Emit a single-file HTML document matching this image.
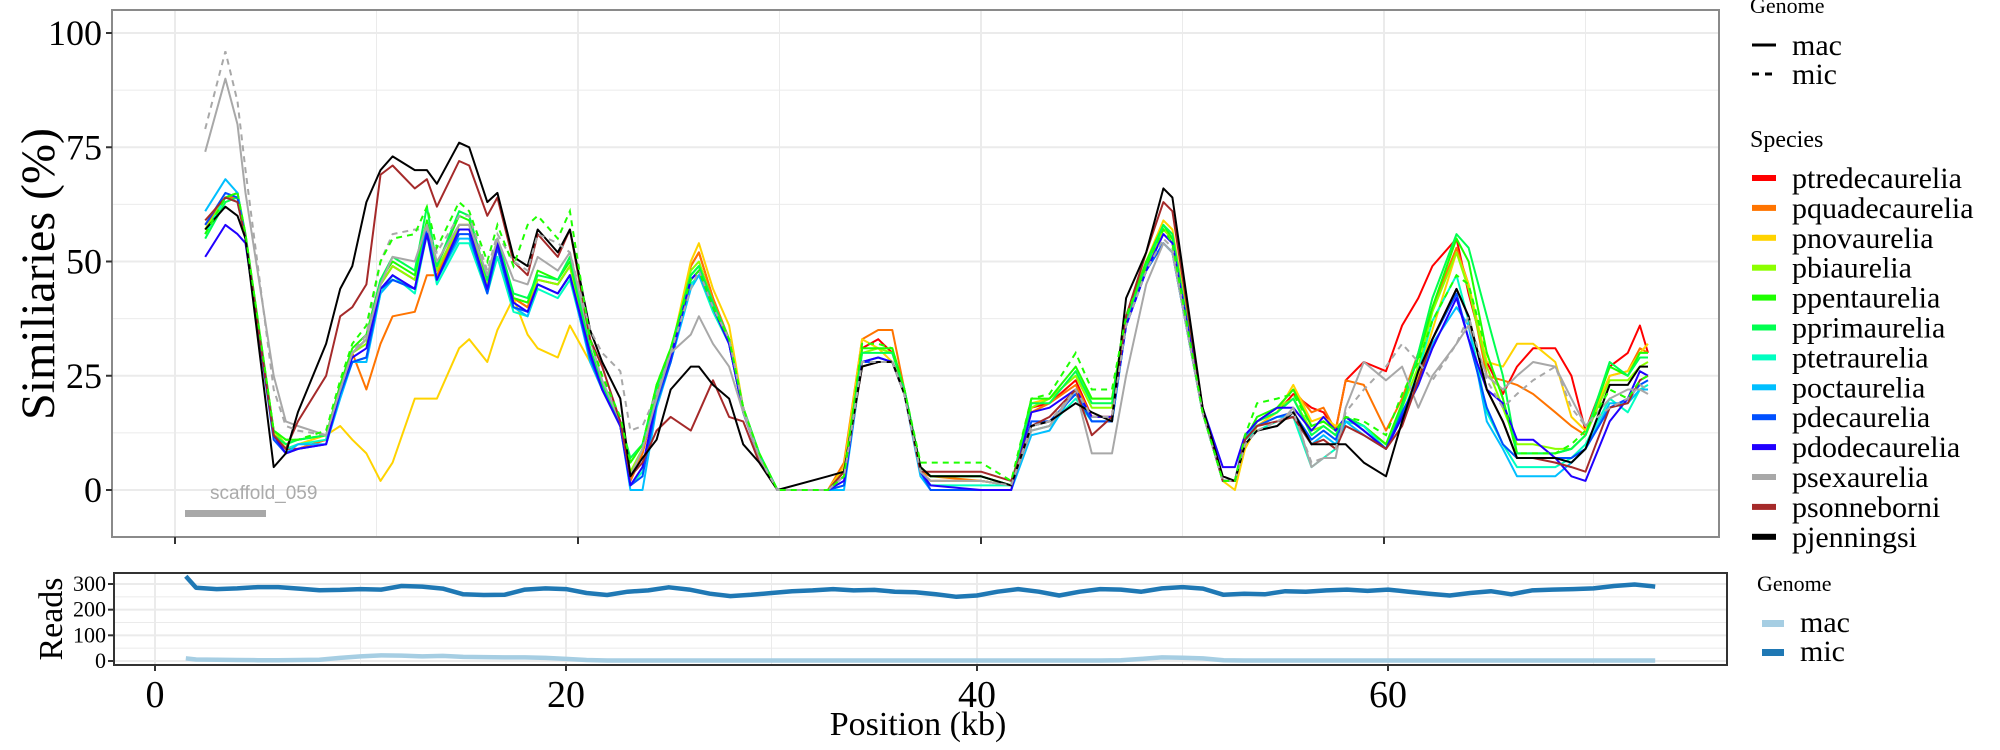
<!DOCTYPE html>
<html><head><meta charset="utf-8"><style>
html,body{margin:0;padding:0;background:#fff;}
svg{display:block;font-family:"Liberation Serif",serif;}
</style></head><body>
<svg id="chart" width="2000" height="750" viewBox="0 0 2000 750" xmlns="http://www.w3.org/2000/svg"></svg>
<script>
const positions=[1.5,2.5,3.1,3.5,4.9,5.5,6.1,7.5,8.2,8.8,9.5,10.2,10.8,11.9,12.5,13.0,14.1,14.6,15.5,16.0,16.8,17.5,18.0,19.0,19.6,20.6,21.2,22.1,22.6,23.2,23.9,24.6,25.6,26.0,26.7,27.5,28.2,29.0,29.9,32.4,33.2,34.1,34.9,35.6,36.2,37.0,37.5,40.0,41.5,42.5,43.4,44.7,45.5,46.5,47.2,48.2,49.05,49.5,51.0,52.0,52.6,53.1,53.7,54.7,55.5,56.4,57.0,57.6,58.1,59.0,60.1,60.9,61.7,62.4,63.6,64.2,65.1,65.9,66.6,67.4,68.5,69.3,70.0,71.2,72.1,72.7,73.1];
const speciesNames=["ptredecaurelia","pquadecaurelia","pnovaurelia","pbiaurelia","ppentaurelia","pprimaurelia","ptetraurelia","poctaurelia","pdecaurelia","pdodecaurelia","psexaurelia","psonneborni","pjenningsi"];
const speciesColors=["#ff0000","#ff7400","#ffd300","#8cff00","#1eff00","#00ff50","#00ffc0","#00bfff","#0050ff","#2000ff","#a8a8a8","#a52a2a","#000000"];
const ptredecaureliaMac=[58,64,64,55,12,9,9,11,23,30,33,45,49,46,58,48,58,58,44,53,42,40,46,45,49,30,22,14,2,8,21,30,49,52,42,33,18,7,0,0,4,31,33,30,22,4,2,2,1,18,19,24,16,16,38,50,57,55,17,2,2,11,15,17,21,18,17,13,24,28,26,36,42,49,55,43,28,21,27,31,31,25,13,27,30,36,30];
const pquadecaureliaMac=[57,64,64,55,12,8,9,11,22,30,22,32,38,39,47,47,57,57,44,53,42,40,45,43,47,29,22,14,2,8,21,30,49,52,42,33,18,7,0,0,6,33,35,35,22,4,3,2,1,17,19,23,16,16,37,49,57,55,17,2,2,11,15,18,22,17,18,13,24,23,13,20,30,40,53,45,25,24,23,21,17,14,12,25,26,31,30];
const pnovaureliaMac=[57,64,65,55,13,9,10,12,14,11,8,2,6,20,20,20,31,33,28,35,42,34,31,29,36,28,22,14,3,9,22,30,50,54,44,36,18,7,0,0,5,33,31,28,22,4,2,2,1,19,20,25,20,20,38,50,59,57,18,2,0,9,14,17,23,15,16,14,15,14,10,16,25,35,52,45,28,27,32,32,28,16,13,25,26,30,32];
const pbiaureliaMac=[57,64,65,55,13,10,11,12,22,30,32,45,49,46,58,48,58,58,45,54,42,41,46,45,49,30,22,14,4,9,22,30,48,50,41,33,18,7,0,0,4,30,31,30,22,5,3,3,1,18,20,25,18,18,38,49,57,55,17,2,2,11,15,18,20,13,14,12,16,14,10,18,27,39,52,44,27,18,10,10,9,9,12,24,24,27,28];
const ppentaureliaMac=[56,64,65,56,13,11,11,12,23,31,34,46,50,47,59,49,60,59,46,55,42,41,48,46,50,31,23,15,6,10,23,31,47,49,41,33,18,8,0,0,3,31,31,31,22,5,3,3,1,20,20,27,20,20,38,50,58,55,17,2,2,11,16,18,22,14,15,13,16,14,10,19,29,40,55,50,30,20,8,8,8,9,12,27,25,30,30];
const pprimaureliaMac=[55,63,64,55,12,10,11,12,22,30,33,46,51,48,62,49,61,60,46,55,43,42,47,46,51,31,23,15,7,10,22,30,47,49,41,33,18,8,0,0,3,30,30,30,22,5,3,3,1,19,19,26,19,19,37,49,58,56,17,2,2,11,15,17,20,12,14,12,16,14,9,18,30,42,56,53,38,25,8,8,8,9,12,28,25,29,29];
const ptetraureliaMac=[56,64,63,55,12,9,10,11,21,28,29,43,47,43,56,45,54,54,43,51,39,38,44,42,46,29,22,14,1,4,19,28,45,47,39,32,17,7,0,0,1,28,29,28,21,4,1,1,1,13,14,20,15,15,36,48,54,52,17,2,2,11,13,15,16,5,7,9,15,14,9,16,26,37,47,37,17,10,5,5,5,7,10,20,17,22,23];
const poctaureliaMac=[61,68,65,55,12,8,10,10,20,28,28,43,46,44,58,46,55,55,44,53,40,38,45,43,47,28,22,14,0,0,18,28,44,47,40,32,17,7,0,0,0,28,28,28,21,3,0,0,0,12,13,22,15,15,36,48,54,52,17,2,2,12,14,16,16,10,12,10,15,12,9,16,23,32,40,36,15,9,3,3,3,6,9,19,19,22,22];
const pdecaureliaMac=[58,65,64,55,11,8,9,10,21,28,29,44,46,44,57,46,56,56,43,53,40,39,45,43,47,29,22,14,1,3,19,28,46,48,40,32,17,7,0,0,1,28,28,28,21,4,0,0,0,15,15,21,15,15,36,48,54,52,17,2,2,11,14,16,17,11,13,11,16,13,9,17,24,33,43,33,18,10,7,7,7,7,9,18,20,23,24];
const pdodecaureliaMac=[51,58,56,54,12,8,9,10,22,29,31,44,47,44,56,46,57,57,44,54,41,39,45,43,47,30,22,14,1,5,20,29,46,48,40,32,17,7,0,0,2,28,29,28,21,4,1,0,0,17,18,22,16,16,36,48,56,54,18,5,5,12,15,18,18,13,16,13,16,13,9,16,23,31,42,33,22,19,11,11,7,3,2,15,20,26,25];
const psexaureliaMac=[74,90,80,65,25,15,14,12,22,30,33,45,51,50,58,50,58,58,47,55,46,45,51,48,52,33,24,15,3,9,20,30,34,38,32,27,17,7,0,0,3,27,28,28,21,4,2,2,1,13,14,22,8,8,25,45,54,52,17,2,2,10,13,14,18,5,7,7,18,28,24,27,18,25,32,36,25,22,25,28,27,20,14,20,22,22,21];
const psonneborniMac=[59,64,63,55,12,9,15,25,38,40,45,69,71,66,68,62,72,71,60,64,50,47,56,51,57,33,27,15,3,6,13,16,13,17,24,16,15,6,0,0,4,27,28,28,21,4,4,4,2,14,16,22,12,16,38,52,63,61,18,2,2,11,14,15,16,10,11,9,14,12,9,14,24,33,44,38,22,15,7,7,6,5,4,18,19,24,25];
const pjenningsiMac=[57,62,60,55,5,8,17,32,44,49,63,70,73,70,70,67,76,75,63,65,51,49,57,52,57,35,28,20,3,7,11,22,27,27,23,20,10,6,0,3,4,27,28,28,21,5,3,3,1,14,15,19,17,15,42,52,66,64,18,3,2,10,13,14,17,10,10,10,10,6,3,15,26,33,44,38,22,15,7,7,7,6,9,23,23,27,27];
const psexaureliaMic=[79,96,85,70,22,14,13,12,22,30,34,50,56,57,57,52,60,60,48,56,50,48,56,54,52,35,30,26,13,14,21,30,44,48,40,33,18,7,0,0,3,28,28,28,21,4,2,2,1,14,15,22,16,16,36,48,55,53,17,2,2,10,13,15,17,6,7,9,17,22,27,32,28,24,32,38,24,18,21,24,27,18,14,18,20,23,22];
const ppentaureliaMic=[56,64,65,56,13,11,11,13,24,32,36,50,55,56,62,53,63,61,50,58,49,58,60,55,61,33,25,16,6,10,23,31,46,48,40,33,18,8,0,0,3,32,32,31,22,6,6,6,2,20,21,30,22,22,38,49,57,54,17,2,2,12,19,20,21,14,15,13,16,15,12,21,28,37,47,45,30,20,8,8,8,10,13,22,20,24,25];
const readPositions=[1.5,2,3,4,5,6,7,8,9,10,11,12,13,14,15,16,17,18,19,20,21,22,23,24,25,26,27,28,29,30,31,32,33,34,35,36,37,38,39,40,41,42,43,44,45,46,47,48,49,50,51,52,53,54,55,56,57,58,59,60,61,62,63,64,65,66,67,68,69,70,71,72,73];
const readsMic=[330,285,280,283,288,288,282,276,277,280,278,292,290,282,260,257,258,278,283,280,265,257,270,275,287,278,262,253,258,265,272,275,280,275,277,270,268,260,250,255,270,280,270,255,270,280,278,270,283,288,282,258,262,260,272,270,275,278,273,278,270,262,255,265,272,260,275,278,280,283,292,298,290];
const readsMac=[10,6,5,4,3,3,4,5,12,18,22,21,18,20,16,15,14,14,12,8,4,2,2,2,2,2,2,2,2,2,2,2,2,2,2,2,2,2,2,2,2,2,2,2,2,2,3,8,14,13,10,3,2,2,2,2,2,2,2,2,2,2,2,2,2,2,2,2,2,2,2,2,2];
const yTicks=[0,25,50,75,100];
const xTicks=[0,20,40,60];
const readTicks=[0,100,200,300];

const macSeries=[ptredecaureliaMac,pquadecaureliaMac,pnovaureliaMac,pbiaureliaMac,ppentaureliaMac,pprimaureliaMac,ptetraureliaMac,poctaureliaMac,pdecaureliaMac,pdodecaureliaMac,psexaureliaMac,psonneborniMac,pjenningsiMac];
const NS="http://www.w3.org/2000/svg";
const svg=document.getElementById('chart');
function mk(tag,attrs,parent){const e=document.createElementNS(NS,tag);for(const k in attrs)e.setAttribute(k,attrs[k]);(parent||svg).appendChild(e);return e;}
const xTop=kb=>175+20.15*kb;
const yTop=v=>490-4.57*v;
const xBot=kb=>155+20.55*kb;
const yBot=v=>661-0.2567*v;

const topG=mk('g',{});


mk('rect',{x:112,y:10,width:1607,height:527,fill:'#fff'},topG);
for(let v=-12.5;v<=100;v+=12.5){if(v<-10)continue;const y=yTop(v);const l=mk('line',{x1:112,x2:1719,y1:y,y2:y,stroke:'#ebebeb','stroke-width':(v%25===0)?2:1},topG);

}
for(let k=-10;k<=80;k+=10){const x=xTop(k);if(x<112||x>1719)continue;const l=mk('line',{x1:x,x2:x,y1:10,y2:537,stroke:'#ebebeb','stroke-width':(k%20===0)?2:1},topG);

}
function path(xs,ys,fx,fy){return xs.map((x,i)=>(i?'L':'M')+fx(x).toFixed(1)+' '+fy(ys[i]).toFixed(1)).join(' ');}
macSeries.forEach((s,i)=>{const p=mk('path',{d:path(positions,s,xTop,yTop),fill:'none',stroke:speciesColors[i],'stroke-width':2,'stroke-linejoin':'round'},topG);

});
const d1=mk('path',{d:path(positions,psexaureliaMic,xTop,yTop),fill:'none',stroke:speciesColors[10],'stroke-width':2,'stroke-dasharray':'6 5'},topG);


const d2=mk('path',{d:path(positions,ppentaureliaMic,xTop,yTop),fill:'none',stroke:speciesColors[4],'stroke-width':2,'stroke-dasharray':'6 5'},topG);


const sb=mk('rect',{x:185,y:510,width:81,height:7,fill:'#a8a8a8'},topG);


const st=mk('text',{x:210,y:499,'font-family':'Liberation Sans, sans-serif','font-size':19,fill:'#aaaaaa'},topG);st.textContent='scaffold_059';


mk('rect',{x:112,y:10,width:1607,height:527,fill:'none',stroke:'#8a8a8a','stroke-width':2},topG);
yTicks.forEach(v=>{const y=yTop(v);mk('line',{x1:106,x2:112,y1:y,y2:y,stroke:'#333','stroke-width':2},topG);
const t=mk('text',{x:102,y:y+12,'text-anchor':'end','font-size':36,fill:'#000'},topG);t.textContent=v;

});
xTicks.forEach(k=>{const x=xTop(k);mk('line',{x1:x,x2:x,y1:537,y2:544,stroke:'#333','stroke-width':2},topG);});
const yt=mk('text',{x:0,y:0,transform:'translate(54,274) rotate(-90)','text-anchor':'middle','font-size':48},topG);yt.textContent='Similiaries (%)';



const botG=mk('g',{});


for(let v=0;v<=350;v+=50){const y=yBot(v);if(y<573)continue;mk('line',{x1:114,x2:1727,y1:y,y2:y,stroke:'#ebebeb','stroke-width':(v%100===0)?2:1},botG);}
for(let k=0;k<=70;k+=10){const x=xBot(k);mk('line',{x1:x,x2:x,y1:573,y2:665,stroke:'#ebebeb','stroke-width':(k%20===0)?2:1},botG);}
const rm=mk('path',{d:path(readPositions,readsMac,xBot,yBot),fill:'none',stroke:'#a6cee3','stroke-width':4.5,'stroke-linejoin':'round'},botG);


const rc=mk('path',{d:path(readPositions,readsMic,xBot,yBot),fill:'none',stroke:'#1f78b4','stroke-width':4.5,'stroke-linejoin':'round'},botG);


mk('rect',{x:114,y:573,width:1613,height:92,fill:'none',stroke:'#333','stroke-width':2},botG);
readTicks.forEach(v=>{const y=yBot(v);mk('line',{x1:108,x2:114,y1:y,y2:y,stroke:'#333','stroke-width':2},botG);
const t=mk('text',{x:106,y:y+7,'text-anchor':'end','font-size':22},botG);t.textContent=v;

});
xTicks.forEach(k=>{const x=xBot(k);mk('line',{x1:x,x2:x,y1:665,y2:671,stroke:'#333','stroke-width':2},botG);
const t=mk('text',{x:x,y:707,'text-anchor':'middle','font-size':38},botG);t.textContent=k;

});
const rt=mk('text',{x:0,y:0,transform:'translate(62,619) rotate(-90)','text-anchor':'middle','font-size':34},botG);rt.textContent='Reads';


const xt=mk('text',{x:918,y:735,'text-anchor':'middle','font-size':34},botG);xt.textContent='Position (kb)';



const lg=mk('g',{});


function ltext(x,y,s,size,name){const t=mk('text',{x:x,y:y,'font-size':size},lg);t.textContent=s;

return t;}
ltext(1750,13,'Genome',22,'genome-legend-title');
mk('line',{x1:1752,x2:1776,y1:45,y2:45,stroke:'#000','stroke-width':3},lg);
ltext(1792,55,'mac',30,'legend-entry-mac');
mk('line',{x1:1752,x2:1776,y1:74,y2:74,stroke:'#000','stroke-width':3,'stroke-dasharray':'7 6'},lg);
ltext(1792,84,'mic',30,'legend-entry-mic');
ltext(1750,147,'Species',24,'species-legend-title');
speciesNames.forEach((n,i)=>{const y=188+i*29.9;
const r=mk('rect',{x:1752,y:y-13,width:24,height:6,fill:speciesColors[i]},lg);


ltext(1792,y,n,30,'legend-entry-'+n);});
ltext(1757,591,'Genome',22,'reads-legend-title');
mk('rect',{x:1762,y:620,width:22,height:7,fill:'#a6cee3'},lg);
ltext(1800,632,'mac',30,'reads-legend-mac');
mk('rect',{x:1762,y:649,width:22,height:7,fill:'#1f78b4'},lg);
ltext(1800,661,'mic',30,'reads-legend-mic');
</script>
</body></html>
